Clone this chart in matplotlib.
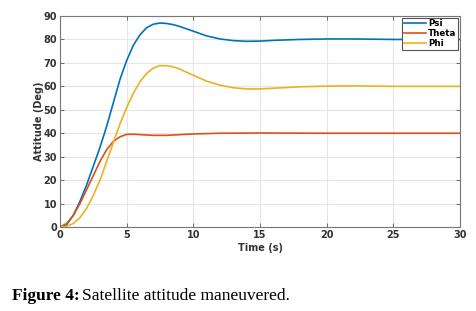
import matplotlib.pyplot as plt
import numpy as np

# ===== data =====
t_psi = [0, 0.5, 1, 1.5, 2, 2.5, 3, 3.5, 4, 4.5, 5, 5.5, 6, 6.5, 7, 7.5, 8, 8.5, 9, 9.5,
         10, 11, 12, 13, 14, 15, 16, 18, 20, 22, 25, 30]
psi = [0, 1, 5, 11, 18, 26, 34, 43, 53, 63, 71, 77.5, 82, 85, 86.5, 87, 86.8, 86.3, 85.5, 84.5,
       83.5, 81.5, 80.2, 79.5, 79.2, 79.3, 79.6, 80, 80.2, 80.2, 80, 80]

t_theta = [0, 0.5, 1, 1.5, 2, 2.5, 3, 3.5, 4, 4.5, 5, 5.5, 6, 7, 8, 9, 10, 12, 15, 20, 30]
theta = [0, 1.5, 5, 10, 16, 22, 28, 33, 36.5, 38.5, 39.5, 39.6, 39.4, 39.1, 39.1, 39.4, 39.7,
         40, 40.1, 40, 40]

t_phi = [0, 0.5, 1, 1.5, 2, 2.5, 3, 3.5, 4, 4.5, 5, 5.5, 6, 6.5, 7, 7.5, 8, 8.5, 9, 9.5,
         10, 11, 12, 13, 14, 15, 16, 18, 20, 22, 25, 30]
phi = [0, 0.3, 1.5, 4, 8, 13.5, 20, 28, 36, 44, 51, 57, 62, 65.5, 67.8, 68.8, 68.8, 68.3, 67.3, 66,
       64.7, 62.2, 60.5, 59.4, 58.9, 58.9, 59.2, 59.8, 60.1, 60.2, 60, 60]

xticks = [0, 5, 10, 15, 20, 25, 30]
yticks = [0, 10, 20, 30, 40, 50, 60, 70, 80, 90]

# ===== figure =====
fig = plt.figure(figsize=(4.77, 3.11), dpi=100)
ax = fig.add_axes([0.1258, 0.270, 0.8386, 0.6786])

ax.plot(t_psi, psi, color='#0072BD', lw=1.2, label='Psi')
ax.plot(t_theta, theta, color='#D95319', lw=1.2, label='Theta')
ax.plot(t_phi, phi, color='#EDB120', lw=1.2, label='Phi')

ax.set_xlim(0, 30)
ax.set_ylim(0, 90)
ax.set_xticks(xticks)
ax.set_yticks(yticks)
ax.grid(True, color='#e6e6e6', lw=0.8)
ax.tick_params(direction='in', top=True, right=True, length=3, width=0.6,
               color='#555555', labelsize=7, pad=2)
for lab in ax.get_xticklabels() + ax.get_yticklabels():
    lab.set_fontweight('bold')
    lab.set_color('#333333')
for s in ax.spines.values():
    s.set_color('#777777')
    s.set_linewidth(0.8)

ax.set_xlabel('Time (s)', fontsize=7, fontweight='bold', color='#333333', labelpad=2)
ax.set_ylabel('Attitude (Deg)', fontsize=7, fontweight='bold', color='#333333', labelpad=0)

leg = ax.legend(loc='upper right', handlelength=2.6, handletextpad=0.2,
                borderpad=0.2, labelspacing=0.1, fancybox=False, framealpha=1,
                borderaxespad=0.2, prop={'weight': 'bold', 'size': 6.3})
leg.get_frame().set_edgecolor('#555555')
leg.get_frame().set_linewidth(0.8)

# caption: bold label followed by regular text
cap1 = fig.text(0.025, 0.035, 'Figure 4:', fontsize=12.5, fontweight='bold',
                family='Liberation Serif', va='baseline')
fig.canvas.draw()
bb = cap1.get_window_extent(renderer=fig.canvas.get_renderer())
x2 = bb.x1 / fig.bbox.width + 0.006
fig.text(x2, 0.035, 'Satellite attitude maneuvered.', fontsize=12.5,
         family='Liberation Serif', va='baseline')

fig.savefig('out.png', dpi=100)
